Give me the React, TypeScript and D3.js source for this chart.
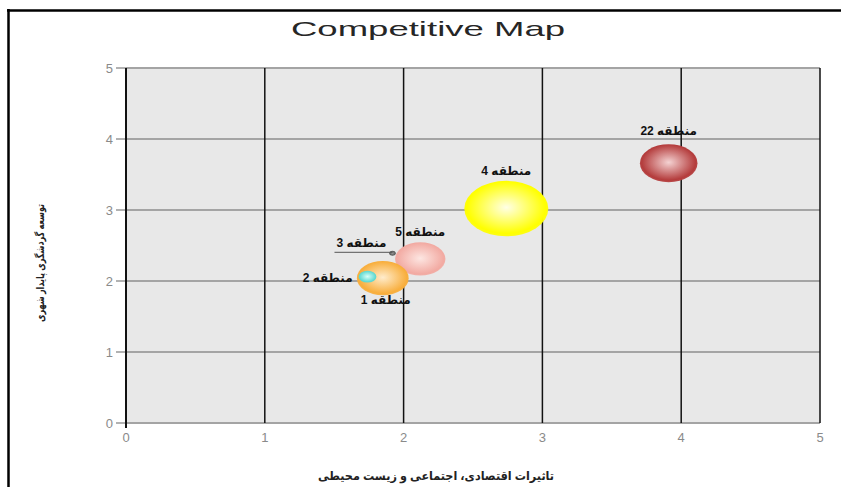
import React from "react";
import * as d3 from "d3";

const regions = ["منطقه 22", "منطقه 4", "منطقه 5", "منطقه 1", "منطقه 2", "منطقه 3"];
const xValues = [3.91, 2.74, 2.12, 1.85, 1.74, 1.92];
const yValues = [3.66, 3.02, 2.31, 2.04, 2.06, 2.39];
const sizes = [47, 100, 36, 38, 4.5, 0.6];
const baseColors = ["#b43c3c", "#ffff00", "#f2aaa2", "#f8ae3c", "#5cd8d0", "#555555"];
const centerColors = ["#f4d2d2", "#ffffe6", "#fde6e2", "#ffeccc", "#d8fff8", "#999999"];
const labelPlacement = ["top", "top", "top", "bottom", "left", "leader"];
const xTicks = [0, 1, 2, 3, 4, 5];
const yTicks = [0, 1, 2, 3, 4, 5];

const title = "Competitive Map";
const xTitle = "تاثیرات اقتصادی، اجتماعی و زیست محیطی";
const yTitle = "توسعه گردشگری پایدار شهری";

const W = 841;
const H = 487;
const left = 126;
const right = 820;
const top = 68;
const bottom = 423;
const FONT = "'Liberation Sans', Arial, 'DejaVu Sans', sans-serif";

export default function App() {
  const x = d3.scaleLinear().domain([0, 5]).range([left, right]);
  const y = d3.scaleLinear().domain([0, 5]).range([bottom, top]);
  const r = d3.scaleSqrt().domain([0, 100]).range([0, 42]);
  const aspect = 0.66;

  return (
    <svg
      width={W}
      height={H}
      viewBox={`0 0 ${W} ${H}`}
      style={{ position: "absolute", left: 0, top: 0, background: "#fff" }}
    >
      <defs>
        {regions.map((_, i) => (
          <radialGradient key={i} id={`g${i}`} cx="50%" cy="48%" r="55%">
            <stop offset="0%" stopColor={centerColors[i]} />
            <stop offset="85%" stopColor={baseColors[i]} />
            <stop offset="100%" stopColor={baseColors[i]} stopOpacity={0.85} />
          </radialGradient>
        ))}
      </defs>

      {/* outer frame */}
      <line x1={7} x2={W} y1={10.5} y2={10.5} stroke="#000" strokeWidth={2.5} />
      <line x1={8.5} x2={8.5} y1={9} y2={H} stroke="#000" strokeWidth={2.5} />

      <text
        x={428}
        y={36}
        textAnchor="middle"
        fontFamily={FONT}
        fontSize={21}
        fill="#262626"
        textLength={274}
        lengthAdjust="spacingAndGlyphs"
      >
        {title}
      </text>

      {/* plot background */}
      <rect x={left} y={top} width={right - left} height={bottom - top} fill="#e8e8e8" />

      {/* horizontal grid */}
      {yTicks.map((t) => (
        <g key={`hy${t}`}>
          <line x1={left} x2={right} y1={y(t)} y2={y(t)} stroke="#a4a4a4" strokeWidth={2} />
          <line x1={left - 10} x2={left} y1={y(t)} y2={y(t)} stroke="#999" strokeWidth={1.5} />
          <text
            x={left - 13}
            y={y(t) + 5}
            textAnchor="end"
            fontFamily={FONT}
            fontSize={13}
            fill="#8a8a8a"
          >
            {t}
          </text>
        </g>
      ))}

      {/* vertical grid */}
      {xTicks.map((t) => (
        <g key={`vx${t}`}>
          <line
            x1={x(t)}
            x2={x(t)}
            y1={top}
            y2={bottom + (t === 0 ? 5 : 0)}
            stroke="#111"
            strokeWidth={t === 0 ? 2 : 1.5}
          />
          <text
            x={x(t)}
            y={bottom + 19}
            textAnchor="middle"
            fontFamily={FONT}
            fontSize={13}
            fill="#8a8a8a"
          >
            {t}
          </text>
        </g>
      ))}

      {/* bubbles */}
      {regions.map((name, i) => {
        const cx = x(xValues[i]);
        const cy = y(yValues[i]);
        const rx = Math.max(r(sizes[i]), 2.5);
        const ry = Math.max(rx * aspect, 2.5);
        return (
          <ellipse key={name} cx={cx} cy={cy} rx={rx} ry={ry} fill={`url(#g${i})`} />
        );
      })}

      {/* labels */}
      {regions.map((name, i) => {
        const cx = x(xValues[i]);
        const cy = y(yValues[i]);
        const rx = Math.max(r(sizes[i]), 2.5);
        const ry = Math.max(rx * aspect, 2.5);
        const p = labelPlacement[i];
        const common = {
          fontFamily: FONT,
          fontSize: 12,
          fontWeight: 700 as const,
          fill: "#111",
          style: { direction: "rtl" as const, unicodeBidi: "embed" as const },
        };
        if (p === "top") {
          return (
            <text key={name} x={cx} y={cy - ry - (i === 0 ? 9 : 6)} textAnchor="middle" {...common}>
              {name}
            </text>
          );
        }
        if (p === "bottom") {
          return (
            <text key={name} x={cx + 3} y={cy + ry + 9} textAnchor="middle" {...common}>
              {name}
            </text>
          );
        }
        if (p === "left") {
          return (
            <text key={name} x={cx - rx - 31} y={cy + 5} textAnchor="middle" {...common}>
              {name}
            </text>
          );
        }
        return (
          <g key={name}>
            <line x1={cx - 58} x2={cx} y1={cy - 1} y2={cy - 1} stroke="#555" strokeWidth={1} />
            <text x={cx - 31} y={cy - 6} textAnchor="middle" {...common}>
              {name}
            </text>
          </g>
        );
      })}

      <text
        x={436}
        y={480}
        textAnchor="middle"
        fontFamily={FONT}
        fontSize={12}
        fontWeight={700}
        fill="#222"
        textLength={236}
        lengthAdjust="spacingAndGlyphs"
        style={{ direction: "rtl", unicodeBidi: "embed" }}
      >
        {xTitle}
      </text>

      <text
        transform={`translate(44,263) rotate(-90)`}
        textAnchor="middle"
        fontFamily={FONT}
        fontSize={11}
        fontWeight={700}
        fill="#222"
        textLength={118}
        lengthAdjust="spacingAndGlyphs"
        style={{ direction: "rtl", unicodeBidi: "embed" }}
      >
        {yTitle}
      </text>
    </svg>
  );
}
